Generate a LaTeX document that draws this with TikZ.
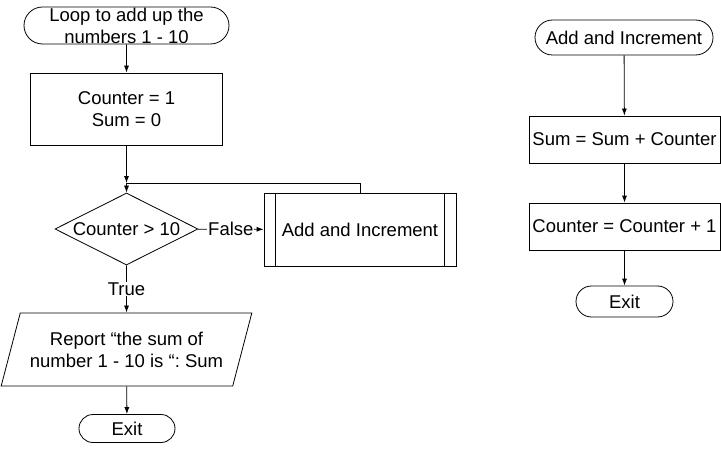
\documentclass[tikz,border=0pt]{standalone}
\usepackage{fontspec}
\setmainfont{Liberation Sans}
\usepackage{tikz}
\usetikzlibrary{shapes.misc, shapes.geometric, arrows.meta}
\frenchspacing

\begin{document}
\begin{tikzpicture}[x=1pt, y=-1pt, >={Latex[length=7pt,width=5pt]}, line width=0.8pt,
	every node/.style={font=\fontsize{18.5}{22}\selectfont, align=center},
	term/.style={rounded rectangle, draw, inner sep=0pt},
	proc/.style={rectangle, draw, inner sep=0pt},
	test/.style={diamond, draw, aspect=2, inner sep=0pt},
	io/.style={trapezium, draw, trapezium left angle=64, trapezium right angle=116, trapezium stretches=true, inner sep=0pt}]
	\useasboundingbox (0,0) rectangle (721,452);
	% main loop
	\node[term, minimum width=205pt, minimum height=37pt] at (126.5,25.5) (start) {Loop to add up the\\numbers 1 - 10};
	\node[proc, minimum width=192pt, minimum height=72pt] at (126.5,109) (init) {Counter = 1\\Sum = 0};
	\coordinate (join) at (126.5,183);
	\node[test, minimum width=143pt, minimum height=72pt] at (126.5,229) (check) {Counter > 10};
	\node[proc, minimum width=192pt, minimum height=73pt] at (360,229.5) (add) {Add and Increment};
	\draw ([xshift=12pt]add.north west) -- ([xshift=12pt]add.south west);
	\draw ([xshift=-12pt]add.north east) -- ([xshift=-12pt]add.south east);
	\node[io, minimum width=251pt, minimum height=73pt] at (126.5,349.5) (report) {Report “the sum of\\number 1 - 10 is “: Sum};
	\node[term, minimum width=96pt, minimum height=28pt] at (127,428.5) (exit) {Exit};
	\draw[->] (start) -- (init);
	\draw[->] (init) -- (join);
	\draw[->] (join) -- (check);
	\draw (add.north) |- (join);
	\draw[->] (check) -- (add) node[midway, fill=white, inner sep=1pt] {False};
	\draw[->] (check) -- (report) node[midway, fill=white, inner sep=1pt] {True};
	\draw[->] (report) -- (exit);
	% sub-process
	\node[term, minimum width=178pt, minimum height=35pt] at (624,37.5) (sub) {Add and Increment};
	\node[proc, minimum width=191pt, minimum height=47pt] at (624.5,139.5) (sum) {Sum = Sum + Counter};
	\node[proc, minimum width=191pt, minimum height=47pt] at (624.5,226.5) (inc) {Counter = Counter + 1};
	\node[term, minimum width=97pt, minimum height=31pt] at (624.5,301.5) (subexit) {Exit};
	\draw[->] (sub) -- (sum);
	\draw[->] (sum) -- (inc);
	\draw[->] (inc) -- (subexit);
\end{tikzpicture}
\end{document}
